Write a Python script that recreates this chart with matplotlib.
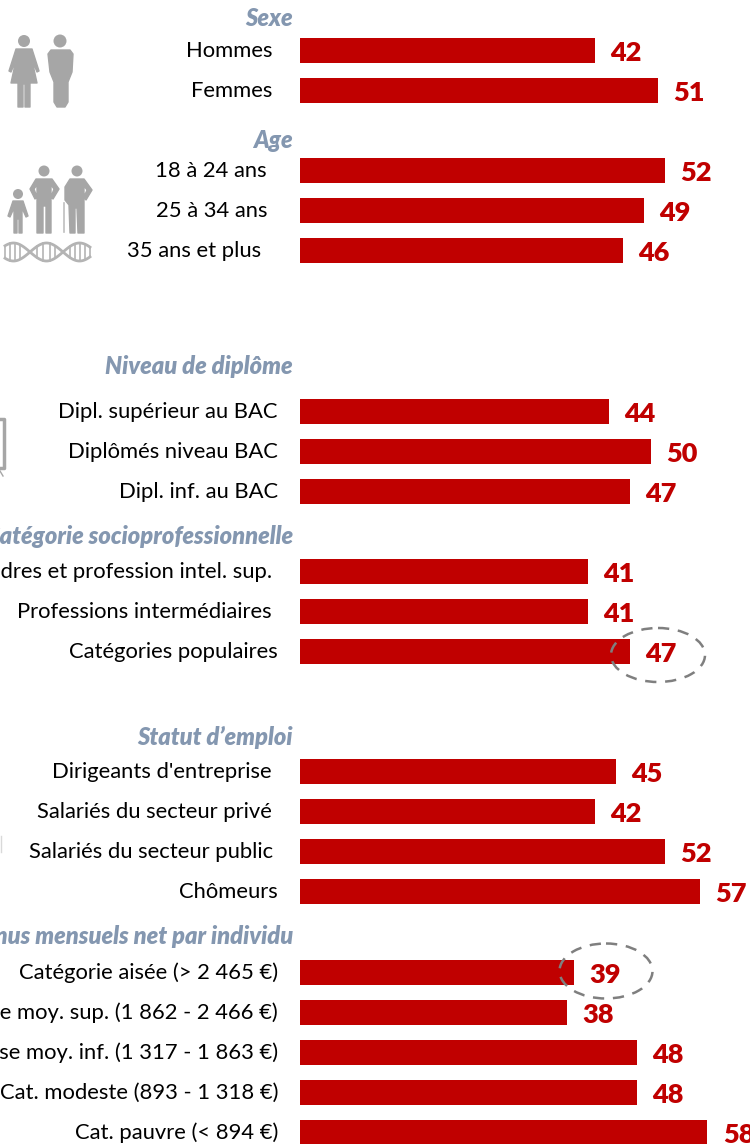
import matplotlib
matplotlib.use('Agg')
import matplotlib.pyplot as plt
from matplotlib.patches import Ellipse, Polygon
import numpy as np

plt.rcParams['font.family'] = ['Lato', 'DejaVu Sans']

W, H = 750, 1144
PX_PER_UNIT = 7.025
BAR_LEFT = 300
RED = '#C00000'
TITLE_COL = '#8497B0'
ICON = '#A6A6A6'

labels = ['Hommes', 'Femmes',
          '18 à 24 ans', '25 à 34 ans', '35 ans et plus',
          'Dipl. supérieur au BAC', 'Diplômés niveau BAC', 'Dipl. inf. au BAC',
          'Cadres et profession intel. sup.', 'Professions intermédiaires', 'Catégories populaires',
          "Dirigeants d'entreprise", 'Salariés du secteur privé', 'Salariés du secteur public', 'Chômeurs',
          'Catégorie aisée (> 2 465 €)', 'Classe moy. sup. (1 862 - 2 466 €)',
          'Classe moy. inf. (1 317 - 1 863 €)', 'Cat. modeste (893 - 1 318 €)', 'Cat. pauvre (< 894 €)']
values = [42, 51, 52, 49, 46, 44, 50, 47, 41, 41, 47, 45, 42, 52, 57, 39, 38, 48, 48, 58]

# row centres and label right edges, in pixels
rows = [50, 90, 170, 210, 250, 411, 451, 491, 571, 611, 651, 771, 811, 851, 891, 972, 1012, 1052, 1092, 1132]
label_right = [272, 272, 267, 267, 261, 278, 278, 278, 272, 272, 278, 272, 272, 273, 278, 278, 278, 278, 278, 278]

groups = ['Sexe', 'Age', 'Niveau de diplôme', 'Catégorie socioprofessionnelle',
          'Statut d’emploi', 'Revenus mensuels net par individu']
group_y = [19, 140, 366, 537, 737, 937]

fig = plt.figure(figsize=(W / 100, H / 100), dpi=100)
ax = fig.add_axes([0, 0, 1, 1])
# x axis in data units, y axis in pixels from the top
ax.set_xlim(-BAR_LEFT / PX_PER_UNIT, (W - BAR_LEFT) / PX_PER_UNIT)
ax.set_ylim(H, 0)
ax.axis('off')


def px(x):
    return (x - BAR_LEFT) / PX_PER_UNIT


ax.barh(rows, values, height=25, left=0, color=RED, linewidth=0)

for y, v, lab, r in zip(rows, values, labels, label_right):
    ax.text(v + 31 / PX_PER_UNIT, y + 3, str(v), color=RED, fontsize=19.5, fontweight='heavy',
            ha='center', va='center', clip_on=True)
    ax.text(px(r), y + 1, lab, color='black', fontsize=15.8, ha='right', va='center', clip_on=True)

for t, y in zip(groups, group_y):
    ax.text(px(293), y, t, color=TITLE_COL, fontsize=17, fontweight='heavy', fontstyle='italic',
            ha='right', va='center', clip_on=True)

# dashed highlight circles
for cx, cy, w, h in [(658, 655, 94, 54), (606, 971, 93, 55)]:
    ax.add_patch(Ellipse((px(cx), cy), w / PX_PER_UNIT, h, fill=False, ec='#7F7F7F', lw=1.8,
                         ls=(0, (4.5, 3.5))))


# icons, pixel coordinates
def poly(pts, col=ICON):
    ax.add_patch(Polygon([(px(a), b) for a, b in pts], closed=True, fc=col, ec=col, lw=1, joinstyle='round'))


def head(x, y, r):
    ax.add_patch(Ellipse((px(x), y), 2 * r / PX_PER_UNIT, 2 * r, fc=ICON, ec='none'))


# woman
head(24, 41, 6)
poly([(16, 49), (32, 49), (39, 71), (37, 72), (32, 60), (37, 83), (30, 83), (30, 107), (25, 107), (25, 84),
      (23, 84), (23, 107), (18, 107), (18, 83), (11, 83), (16, 60), (11, 72), (9, 71)])
# man
head(60, 41, 6.5)
poly([(51, 50), (70, 50), (73, 54), (72, 72), (68, 82), (68, 102), (65, 107), (57, 107), (54, 102), (54, 82),
      (50, 72), (48, 54)])
# child
head(18, 194, 5)
poly([(13, 201), (23, 201), (28, 216), (26, 217), (22, 208), (22, 233), (19, 233), (19, 219), (17, 219),
      (17, 233), (14, 233), (14, 208), (10, 217), (8, 216)])
# adult
head(44, 171, 5.5)
poly([(36, 179), (52, 179), (59, 189), (53, 199), (51, 197), (54, 189), (51, 185), (51, 233), (46, 233),
      (46, 206), (43, 206), (43, 233), (37, 233), (37, 185), (34, 189), (37, 197), (35, 199), (30, 189)])
# old man
head(77, 171, 5.5)
poly([(70, 179), (84, 179), (92, 190), (86, 200), (84, 197), (87, 190), (84, 186), (84, 233), (78, 233),
      (77, 208), (75, 208), (75, 233), (70, 233), (69, 205), (65, 200), (65, 187)])
ax.plot([px(64), px(64)], [203, 232], color='#BFBFBF', lw=1.2)
# dna strand
t = np.linspace(5, 90, 120)
for s in (1, -1):
    ax.plot(px(t), 252 + s * 9 * np.cos((t - 13.5) * np.pi / 33), color='#B4B4B4', lw=2)
for a in [5, 10, 15, 20, 37, 43, 50, 55, 70, 75, 80, 85, 90]:
    d = 9 * abs(np.cos((a - 13.5) * np.pi / 33))
    ax.plot([px(a), px(a)], [252 - d, 252 + d], color='#B4B4B4', lw=1.2)
# slices of icons cut by the left edge
ax.plot([px(0), px(4), px(4), px(0)], [419, 419, 468, 468], color=ICON, lw=2.5)
ax.plot([px(0), px(3)], [471, 476], color=ICON, lw=1)
ax.plot([px(0.5), px(0.5)], [836, 852], color='#D9D9D9', lw=1)

fig.savefig('out.png', dpi=100)
